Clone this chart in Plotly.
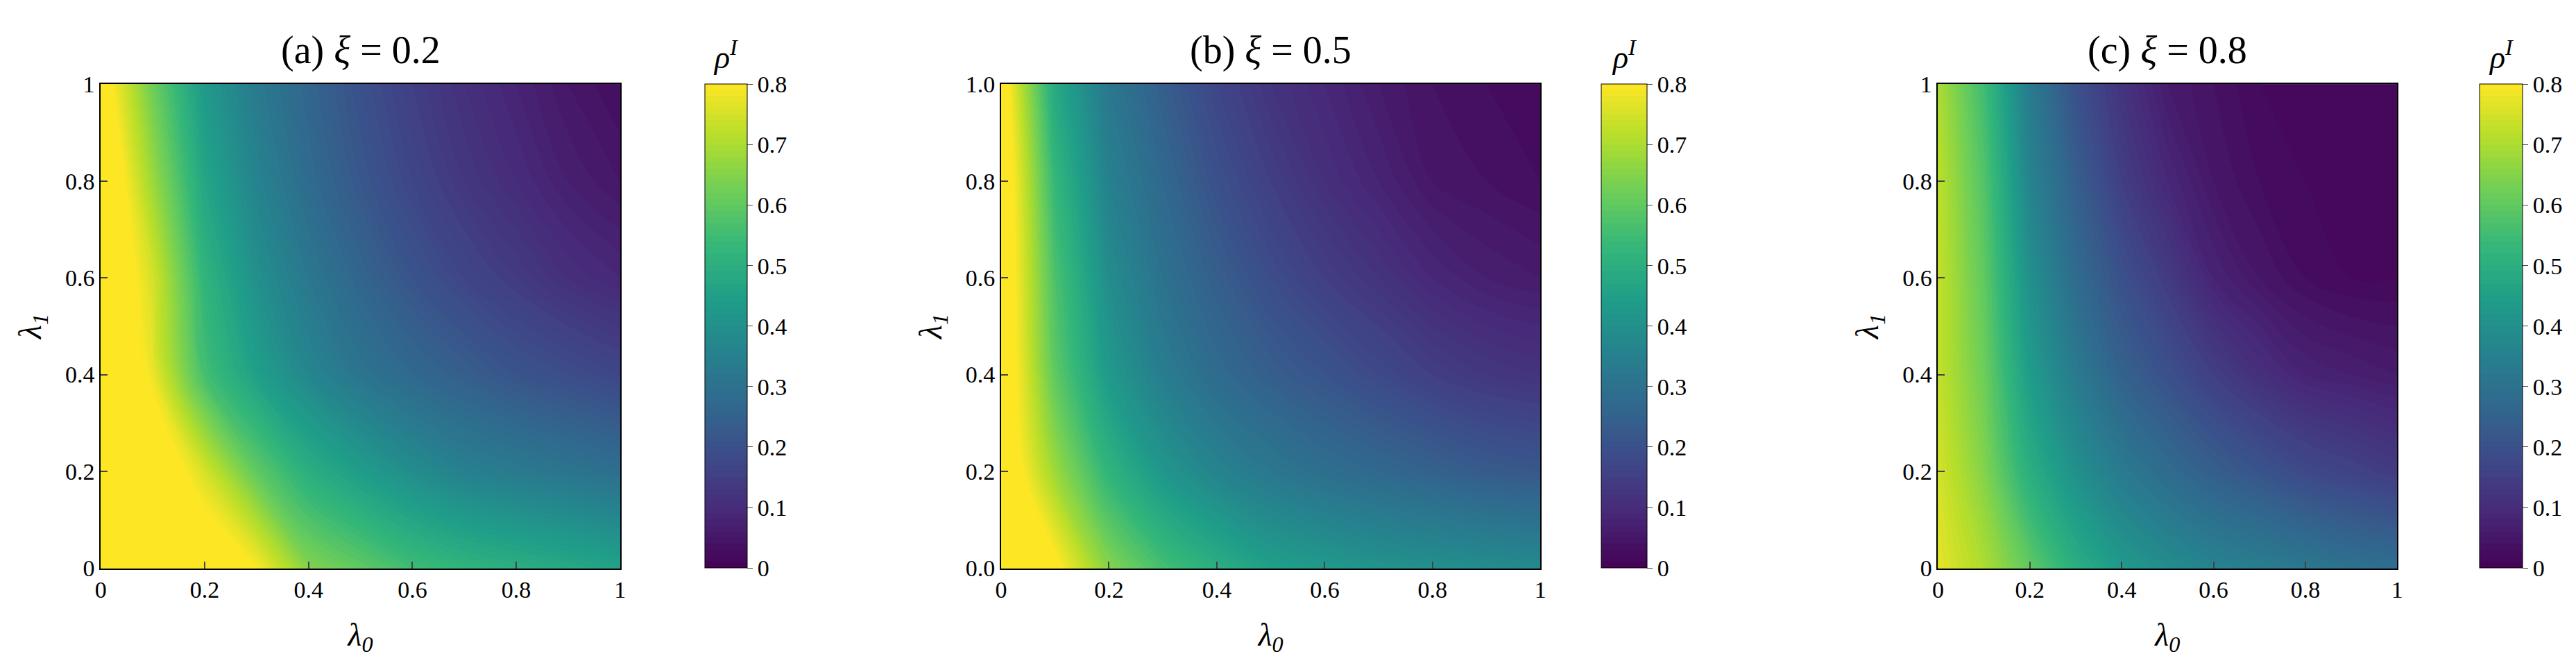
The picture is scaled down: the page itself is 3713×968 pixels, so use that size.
import plotly.graph_objects as go

lam0 = [0, 0.1, 0.2, 0.3, 0.4, 0.5, 0.6, 0.7, 0.8, 0.9, 1.0]
lam1 = [0, 0.2, 0.4, 0.6, 0.8, 1.0]

rho_a = [
    [0.9, 0.9, 0.88, 0.8, 0.65, 0.6, 0.55, 0.52, 0.5, 0.48, 0.46],
    [0.9, 0.88, 0.75, 0.6, 0.5, 0.44, 0.39, 0.35, 0.33, 0.31, 0.29],
    [0.9, 0.78, 0.56, 0.45, 0.37, 0.31, 0.27, 0.24, 0.21, 0.19, 0.17],
    [0.9, 0.75, 0.52, 0.4, 0.32, 0.26, 0.21, 0.17, 0.14, 0.11, 0.09],
    [0.9, 0.68, 0.47, 0.36, 0.28, 0.22, 0.17, 0.13, 0.1, 0.07, 0.05],
    [0.85, 0.62, 0.43, 0.33, 0.26, 0.2, 0.15, 0.11, 0.08, 0.05, 0.03],
]
rho_b = [
    [0.88, 0.82, 0.65, 0.56, 0.5, 0.45, 0.43, 0.41, 0.4, 0.39, 0.38],
    [0.88, 0.68, 0.52, 0.42, 0.36, 0.32, 0.29, 0.27, 0.25, 0.23, 0.22],
    [0.88, 0.6, 0.43, 0.34, 0.28, 0.24, 0.21, 0.18, 0.15, 0.13, 0.12],
    [0.88, 0.57, 0.39, 0.3, 0.24, 0.19, 0.15, 0.12, 0.09, 0.07, 0.06],
    [0.88, 0.53, 0.35, 0.27, 0.2, 0.15, 0.11, 0.08, 0.05, 0.04, 0.03],
    [0.85, 0.48, 0.32, 0.24, 0.17, 0.12, 0.09, 0.06, 0.04, 0.03, 0.02],
]
rho_c = [
    [0.77, 0.7, 0.6, 0.5, 0.43, 0.39, 0.36, 0.34, 0.32, 0.3, 0.29],
    [0.75, 0.65, 0.5, 0.4, 0.33, 0.28, 0.24, 0.21, 0.18, 0.16, 0.14],
    [0.73, 0.62, 0.44, 0.33, 0.25, 0.2, 0.15, 0.11, 0.08, 0.07, 0.06],
    [0.73, 0.6, 0.4, 0.28, 0.2, 0.14, 0.08, 0.05, 0.03, 0.02, 0.02],
    [0.72, 0.58, 0.36, 0.24, 0.15, 0.09, 0.05, 0.03, 0.02, 0.02, 0.02],
    [0.7, 0.55, 0.33, 0.2, 0.12, 0.06, 0.04, 0.02, 0.02, 0.02, 0.02],
]
titles = ["(a) <i>ξ</i> = 0.2", "(b) <i>ξ</i> = 0.5", "(c) <i>ξ</i> = 0.8"]
ytick_a = ["0", "0.2", "0.4", "0.6", "0.8", "1"]
ytick_b = ["0.0", "0.2", "0.4", "0.6", "0.8", "1.0"]
xtick = ["0", "0.2", "0.4", "0.6", "0.8", "1"]
cbar_ticks = [0, 0.1, 0.2, 0.3, 0.4, 0.5, 0.6, 0.7, 0.8]

W, H = 3713, 968
FONT = "Liberation Serif"
plots = [(129, 881, 1004, 1065), (1433, 2214, 2302, 2368), (2790, 3455, 3574, 3636)]
ytop, ybot = 99, 824
datas = [rho_a, rho_b, rho_c]
yticks = [ytick_a, ytick_b, ytick_a]

fig = go.Figure()
for i, (x0, x1, c0, c1) in enumerate(plots):
    sfx = "" if i == 0 else str(i + 1)
    fig.add_trace(go.Contour(
        x=lam0, y=lam1, z=datas[i], xaxis="x" + sfx, yaxis="y" + sfx,
        colorscale="Viridis", zmin=0, zmax=0.8,
        contours=dict(start=0, end=0.8, size=0.01, coloring="fill"),
        line=dict(width=0),
        colorbar=dict(x=c0 / W, xanchor="left", y=1 - ytop / H, yanchor="top",
                      len=(ybot - ytop) / H, lenmode="fraction",
                      thickness=c1 - c0, thicknessmode="pixels",
                      xpad=0, ypad=0,
                      tickvals=cbar_ticks, ticktext=[f"{v:g}" for v in cbar_ticks],
                      ticks="outside", ticklen=8, tickfont=dict(family=FONT, size=34, color="black"),
                      outlinewidth=1, outlinecolor="black"),
    ))
    dom_x = [x0 / W, x1 / W]
    dom_y = [1 - ybot / H, 1 - ytop / H]
    fig.update_layout(**{
        "xaxis" + sfx: dict(domain=dom_x, range=[0, 1], anchor="y" + sfx,
                            tickvals=[0, 0.2, 0.4, 0.6, 0.8, 1], ticktext=xtick,
                            ticks="inside", ticklen=10, tickwidth=2, mirror=True,
                            showline=True, linecolor="black", linewidth=2, showgrid=False,
                            zeroline=False,
                            tickfont=dict(family=FONT, size=34, color="black"),
                            title=dict(text="<i>λ<sub>0</sub></i>", standoff=30,
                                       font=dict(family=FONT, size=46, color="black"))),
        "yaxis" + sfx: dict(domain=dom_y, range=[0, 1], anchor="x" + sfx,
                            tickvals=[0, 0.2, 0.4, 0.6, 0.8, 1], ticktext=yticks[i],
                            ticks="inside", ticklen=10, tickwidth=2, mirror=True,
                            showline=True, linecolor="black", linewidth=2, showgrid=False,
                            zeroline=False,
                            tickfont=dict(family=FONT, size=34, color="black"),
                            title=dict(text="<i>λ<sub>1</sub></i>", standoff=20,
                                       font=dict(family=FONT, size=46, color="black"))),
    })
    fig.add_annotation(text=titles[i], x=(x0 + x1) / 2 / W, y=1 - 48 / H,
                       xref="paper", yref="paper", xanchor="center", yanchor="middle",
                       showarrow=False, font=dict(family=FONT, size=56, color="black"))
    fig.add_annotation(text="<i>ρ<sup>I</sup></i>", x=(c0 + c1) / 2 / W, y=1 - 55 / H,
                       xref="paper", yref="paper", xanchor="center", yanchor="middle",
                       showarrow=False, font=dict(family=FONT, size=46, color="black"))

fig.update_layout(width=W, height=H, margin=dict(l=0, r=0, t=0, b=0),
                  paper_bgcolor="white", plot_bgcolor="white", showlegend=False)
fig.write_html("out.html")
